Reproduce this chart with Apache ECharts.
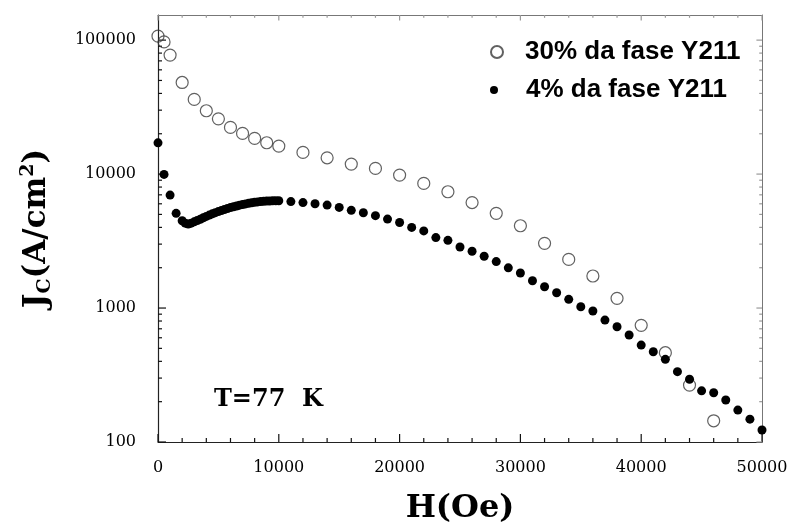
<!DOCTYPE html>
<html>
<head>
<meta charset="utf-8">
<script src="https://cdn.jsdelivr.net/npm/echarts@6/dist/echarts.min.js"></script>
<style>
  html, body { margin: 0; padding: 0; background: #fff; }
  #chart { width: 792px; height: 522px; }
</style>
</head>
<body>
<div id="chart"></div>
<script>
// campo aplicado H (Oe) e Jc (A/cm2)
const h30 = [0, 500, 1000, 2000, 3000, 4000, 5000, 6000, 7000, 8000, 9000, 10000,
  12000, 14000, 16000, 18000, 20000, 22000, 24000, 26000, 28000, 30000,
  32000, 34000, 36000, 38000, 40000, 42000, 44000, 46000]
const jc30 = [107000, 97000, 77300, 48300, 36100, 29700, 25850, 22300, 20130, 18470, 17130, 16180,
  14520, 13230, 11880, 11030, 9830, 8520, 7380, 6130, 5090, 4115,
  3040, 2308, 1734, 1181, 743, 464, 266, 144]

const h4 = [0, 500, 1000, 1500,
  2000, 2250, 2500, 2750, 3000, 3250, 3500, 3750, 4000, 4250, 4500, 4750,
  5000, 5250, 5500, 5750, 6000, 6250, 6500, 6750, 7000, 7250, 7500, 7750,
  8000, 8250, 8500, 8750, 9000, 9250, 9500, 9750, 10000,
  11000, 12000, 13000, 14000, 15000, 16000, 17000, 18000, 19000, 20000,
  21000, 22000, 23000, 24000, 25000, 26000, 27000, 28000, 29000, 30000,
  31000, 32000, 33000, 34000, 35000, 36000, 37000, 38000, 39000, 40000,
  41000, 42000, 43000, 44000, 45000, 46000, 47000, 48000, 49000, 50000]
const jc4 = [17100, 9940, 6970, 5090,
  4480, 4300, 4240, 4300, 4400, 4500, 4600, 4720, 4830, 4940, 5050, 5150,
  5250, 5340, 5440, 5530, 5620, 5700, 5780, 5860, 5920, 5990, 6050, 6110,
  6160, 6200, 6230, 6260, 6290, 6300, 6310, 6320, 6320,
  6235, 6125, 6000, 5870, 5640, 5360, 5145, 4895, 4615, 4348,
  4000, 3767, 3358, 3200, 2853, 2654, 2436, 2223, 1995, 1825,
  1598, 1442, 1301, 1161, 1023, 950, 813, 725, 629, 529,
  472, 414, 335, 294, 241, 233, 206, 173, 148, 123]

const serieNames = ['30% da fase Y211', '4% da fase Y211']

// posicoes das marcas dos eixos
const xMajorTicks = [0, 10000, 20000, 30000, 40000, 50000]
const xMinorTicks = [2000, 4000, 6000, 8000, 12000, 14000, 16000, 18000, 22000, 24000, 26000, 28000,
  32000, 34000, 36000, 38000, 42000, 44000, 46000, 48000]
const yMajorTicks = [100, 1000, 10000, 100000]
const yMinorTicks = [200, 300, 400, 500, 600, 700, 800, 900,
  2000, 3000, 4000, 5000, 6000, 7000, 8000, 9000,
  20000, 30000, 40000, 50000, 60000, 70000, 80000, 90000]

const yMin = 100
const yMax = 154000
const xMin = 0
const xMax = 50000

let myChart = echarts.init(document.getElementById('chart'))

const tickFont = { fontFamily: 'DejaVu Serif', fontSize: 16, color: '#000' }
const nameFont = { fontFamily: 'DejaVu Serif', fontWeight: 'bold', fontSize: 32, color: '#000' }
const legendFont = { fontFamily: 'Liberation Sans', fontWeight: 'bold', fontSize: 26, color: '#000', lineHeight: 28 }
const plainNumber = v => String(Math.round(v))

function tickLine(x1, y1, x2, y2, color) {
  return { type: 'line', shape: { x1: x1, y1: y1, x2: x2, y2: y2 }, style: { stroke: color, lineWidth: 1.2 } }
}

// marcas do eixo H (em baixo e em cima)
function renderXTicks(params, api) {
  const len = api.value(2)
  const b = api.coord([api.value(0), yMin])
  const t = api.coord([api.value(0), yMax])
  return {
    type: 'group',
    children: [
      tickLine(b[0], b[1], b[0], b[1] - len, '#111'),
      tickLine(t[0], t[1], t[0], t[1] + len * 0.7, '#999')
    ]
  }
}

// marcas do eixo Jc (esquerda e direita)
function renderYTicks(params, api) {
  const len = api.value(2)
  const l = api.coord([xMin, api.value(1)])
  const r = api.coord([xMax, api.value(1)])
  return {
    type: 'group',
    children: [
      tickLine(l[0], l[1], l[0] + len, l[1], '#111'),
      tickLine(r[0], r[1], r[0] - len * 0.7, r[1], '#999')
    ]
  }
}

let option = {
  animation: false,
  grid: { left: 158, right: 30, top: 15, bottom: 80, outerBoundsMode: 'none', containLabel: false },
  legend: [
    {
      data: [serieNames[0]], left: 485, top: 33, selectedMode: false,
      itemWidth: 34, itemHeight: 12, textStyle: Object.assign({ padding: [0, 0, 0, 6] }, legendFont)
    },
    {
      data: [serieNames[1]], left: 485, top: 71, selectedMode: false,
      itemWidth: 34, itemHeight: 8, textStyle: Object.assign({ padding: [0, 0, 0, 10] }, legendFont)
    }
  ],
  xAxis: [
    {
      type: 'value', min: xMin, max: xMax, interval: 10000,
      name: 'H(Oe)', nameLocation: 'middle', nameGap: 51, nameTextStyle: nameFont,
      axisLine: { show: true, onZero: false, lineStyle: { color: '#222', width: 1.2 } },
      axisTick: { show: false },
      axisLabel: Object.assign({ margin: 18, formatter: plainNumber }, tickFont),
      splitLine: { show: false }
    },
    {
      type: 'value', position: 'top', min: xMin, max: xMax, interval: 10000,
      axisLine: { show: true, onZero: false, lineStyle: { color: '#777', width: 1 } },
      axisTick: { show: false },
      axisLabel: { show: false }, splitLine: { show: false }
    }
  ],
  yAxis: [
    {
      type: 'log', logBase: 10, min: yMin, max: yMax,
      name: '{j|J}{s|C}{j|(A/cm}{p|2}{j|)}', nameLocation: 'middle', nameGap: 103,
      nameTextStyle: {
        rich: {
          j: { fontFamily: 'DejaVu Serif', fontWeight: 'bold', fontSize: 31, color: '#000', lineHeight: 36 },
          s: { fontFamily: 'DejaVu Serif', fontWeight: 'bold', fontSize: 19, color: '#000', lineHeight: 36, verticalAlign: 'bottom', padding: [13, 0, 0, 0] },
          p: { fontFamily: 'DejaVu Serif', fontWeight: 'bold', fontSize: 19, color: '#000', lineHeight: 36, verticalAlign: 'top', padding: [0, 0, 13, 0] }
        }
      },
      axisLine: { show: true, onZero: false, lineStyle: { color: '#222', width: 1.2 } },
      axisTick: { show: false },
      axisLabel: Object.assign({ margin: 22, showMaxLabel: false, formatter: plainNumber }, tickFont),
      splitLine: { show: false }
    },
    {
      type: 'log', logBase: 10, min: yMin, max: yMax, position: 'right',
      axisLine: { show: true, onZero: false, lineStyle: { color: '#777', width: 1 } },
      axisTick: { show: false },
      axisLabel: { show: false }, splitLine: { show: false }
    }
  ],
  series: [
    {
      type: 'custom', silent: true, clip: false, z: 1,
      renderItem: renderXTicks,
      encode: { x: 0, y: 1 },
      data: xMajorTicks.map(v => [v, yMin, 8]).concat(xMinorTicks.map(v => [v, yMin, 4]))
    },
    {
      type: 'custom', silent: true, clip: false, z: 1,
      renderItem: renderYTicks,
      encode: { x: 0, y: 1 },
      data: yMajorTicks.map(v => [xMin, v, 8]).concat(yMinorTicks.map(v => [xMin, v, 4]))
    },
    {
      name: serieNames[0], type: 'scatter', symbol: 'circle', symbolSize: 12,
      itemStyle: { color: 'rgba(255,255,255,0)', borderColor: '#3a3a3a', borderWidth: 1.2 },
      data: h30.map((h, i) => [h, jc30[i]])
    },
    {
      name: serieNames[1], type: 'scatter', symbol: 'circle', symbolSize: 9,
      itemStyle: { color: '#000', opacity: 1 },
      data: h4.map((h, i) => [h, jc4[i]])
    }
  ],
  graphic: [
    {
      type: 'text', left: 214, top: 388,
      style: { text: 'T=77  K', fontFamily: 'DejaVu Serif', fontWeight: 'bold', fontSize: 24, fill: '#000' }
    }
  ]
}

myChart.setOption(option)
</script>
</body>
</html>
